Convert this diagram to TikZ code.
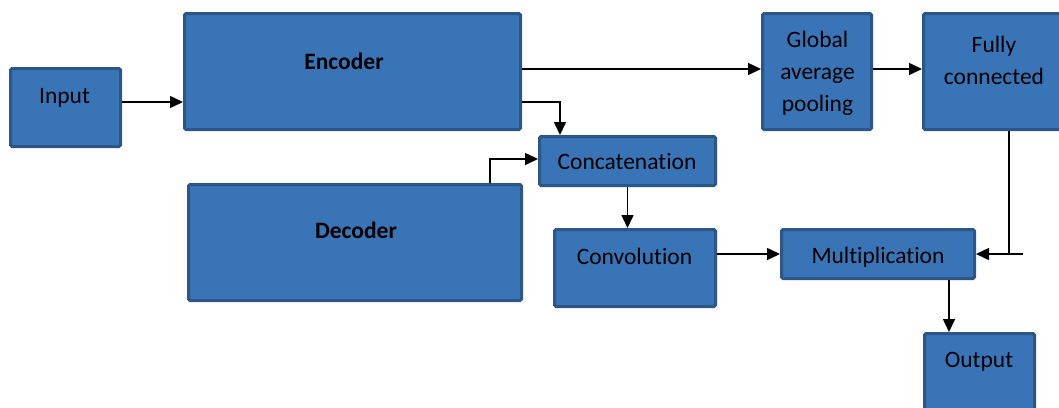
\documentclass[tikz,border=0pt]{standalone}
\usepackage{fontspec}
\setmainfont[Ligatures={NoCommon,NoDiscretionary}]{Carlito}
\usetikzlibrary{arrows.meta}
\definecolor{boxfill}{RGB}{57,116,182}
\definecolor{boxline}{RGB}{44,86,136}
\begin{document}
\begin{tikzpicture}[x=1pt,y=-1pt,
  blk/.style={draw=boxline,fill=boxfill,line width=3pt,rounded corners=1.5pt,inner sep=0pt},
  txt/.style={anchor=base,font=\fontsize{23.5}{32}\selectfont,text=black,inner sep=0pt,align=center},
  arr/.style={line width=1.5pt,-{Triangle[length=13pt,width=12pt]}},
  ln/.style={line width=1.5pt}]
\useasboundingbox (0,0) rectangle (1059,407);
% boxes
\node[blk,minimum width=110pt,minimum height=78pt] (inp) at (65.5,107.5) {};
\node[blk,minimum width=336pt,minimum height=116pt] (enc) at (352.5,71.5) {};
\node[blk,minimum width=109pt,minimum height=116pt] (gap) at (817,71.5) {};
\node[blk,minimum width=141pt,minimum height=116pt] (fc) at (994,71.5) {};
\node[blk,minimum width=176pt,minimum height=49pt] (cat) at (627.5,161) {};
\node[blk,minimum width=333pt,minimum height=116pt] (dec) at (355,242.5) {};
\node[blk,minimum width=161pt,minimum height=77pt] (conv) at (635,268) {};
\node[blk,minimum width=193pt,minimum height=49pt] (mul) at (878,254) {};
\node[blk,minimum width=110pt,minimum height=78pt] (out) at (979.5,372.5) {};
% texts
\node[txt] (tinp) at (64.5,103) {Input};
\node[txt] (tenc) at (344,69) {\textbf{Encoder}};
\node[txt] (tgap1) at (817.5,47) {Global};
\node[txt] (tgap2) at (817.5,79) {average};
\node[txt] (tgap3) at (817.5,111) {pooling};
\node[txt] (tfc1) at (994,52) {Fully};
\node[txt] (tfc2) at (994,84) {connected};
\node[txt] (tcat) at (627,169) {Concatenation};
\node[txt] (tdec) at (356,238) {\textbf{Decoder}};
\node[txt] (tconv) at (634.5,264) {Convolution};
\node[txt] (tmul) at (878,263) {Multiplication};
\node[txt] (tout) at (979,367) {Output};
% helper coordinates
\coordinate (h102) at (0,102);
\coordinate (h69) at (0,69);
\coordinate (h159) at (0,159);
\coordinate (v560) at (560,0);
\coordinate (v490) at (490,0);
\coordinate (v1009) at (1009,0);
\coordinate (v1023) at (1023,0);
\coordinate (v949) at (949,0);
% connectors
\draw[arr] (inp.east |- h102) -- (enc.west |- h102);
\draw[arr] (enc.east |- h69) -- (gap.west |- h69);
\draw[arr] (gap.east |- h69) -- (fc.west |- h69);
\draw[arr] (enc.east |- h102) -| (v560 |- cat.north);
\draw[arr] (v490 |- dec.north) |- (cat.west |- h159);
\draw[arr] (cat.south) -- (cat.south |- conv.north);
\draw[arr] (conv.east |- mul.west) -- (mul.west);
\draw[ln] (v1009 |- fc.south) -- (v1009 |- mul.east);
\draw[arr] (v1023 |- mul.east) -- (mul.east);
\draw[arr] (v949 |- mul.south) -- (v949 |- out.north);
\end{tikzpicture}
\end{document}
